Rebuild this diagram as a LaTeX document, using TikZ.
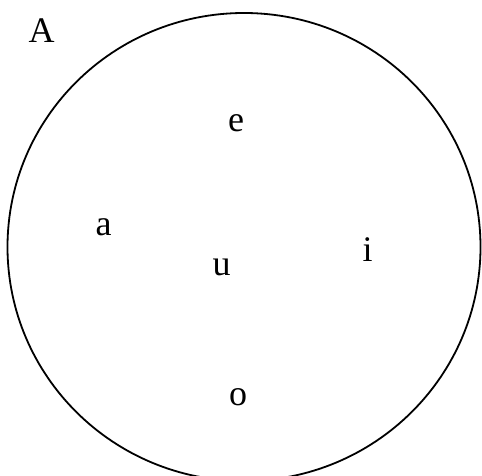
\documentclass[tikz,border=0pt]{standalone}
\usepackage{fontspec}
\setmainfont{Liberation Serif}
\begin{document}
\begin{tikzpicture}[x=1pt,y=1pt,
  lbl/.style={anchor=base,inner sep=0pt,font=\fontsize{36}{40}\selectfont}]
\useasboundingbox (0,0) rectangle (482,475);
\draw[line width=1.8pt] (244,228) ellipse [x radius=236.5, y radius=234];
\node[lbl] (A) at (41.5,432) {A};
\node[lbl] (e) at (236,343) {e};
\node[lbl] (a) at (103.5,240) {a};
\node[lbl] (u) at (221.5,200) {u};
\node[lbl] (i) at (367.5,214) {i};
\node[lbl] (o) at (238,70) {o};
\end{tikzpicture}
\end{document}
